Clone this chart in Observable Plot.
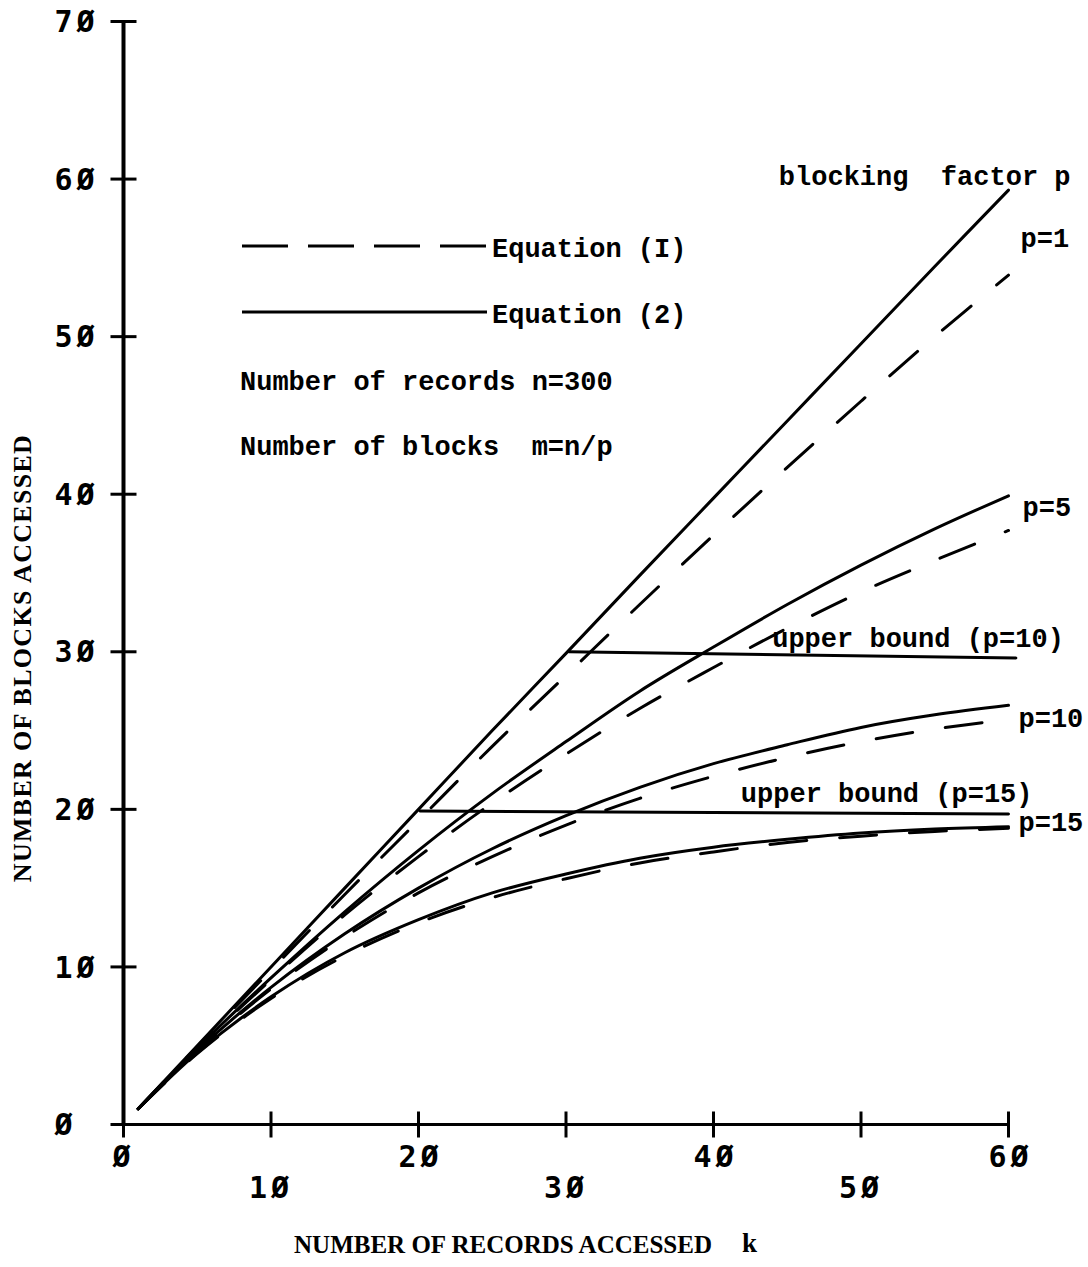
<!DOCTYPE html>
<html><head><meta charset="utf-8">
<script src="https://cdn.jsdelivr.net/npm/d3@7"></script>
<script src="https://cdn.jsdelivr.net/npm/@observablehq/plot@0.6"></script>
<style>
body{margin:0;background:#fff;}
#wrap{position:relative;width:1088px;height:1267px;}
#legend{position:absolute;left:0;top:0;pointer-events:none;}
</style></head><body><div id="wrap"></div>
<script>
// k = number of records accessed
const kValues = [1, 5, 10, 15, 20, 25, 30, 35, 40, 45, 50, 55, 60];
// Equation (2) — solid curves
const eq2P1  = [1, 5, 10, 15, 20, 25, 29.9, 34.85, 39.75, 44.65, 49.55, 54.45, 59.3];
const eq2P5  = [1, 4.85, 9.3, 13.5, 17.4, 21.0, 24.3, 27.5, 30.3, 33.0, 35.5, 37.8, 39.9];
const eq2P10 = [1, 4.7, 8.7, 12.1, 15.0, 17.5, 19.6, 21.4, 22.9, 24.1, 25.2, 26.0, 26.6];
const eq2P15 = [1, 4.55, 8.1, 10.9, 13.0, 14.7, 15.9, 16.9, 17.6, 18.1, 18.5, 18.75, 18.9];
// Equation (1) — dashed curves
const eq1P1  = [1, 4.95, 9.8, 14.6, 19.3, 24.0, 28.5, 33.0, 37.4, 41.7, 45.9, 50.0, 53.9];
const eq1P5  = [1, 4.8, 9.2, 13.3, 17.0, 20.4, 23.5, 26.4, 29.0, 31.5, 33.8, 35.8, 37.7];
const eq1P10 = [1, 4.65, 8.6, 11.9, 14.7, 17.0, 19.0, 20.7, 22.1, 23.3, 24.3, 25.1, 25.7];
const eq1P15 = [1, 4.5, 8.0, 10.7, 12.8, 14.4, 15.6, 16.6, 17.3, 17.9, 18.3, 18.6, 18.8];
// upper bounds (m = n/p)
const upper10K = [30.2, 60.5];
const upper10V = [30.0, 29.6];
const upper15K = [20.1, 60.0];
const upper15V = [19.9, 19.7];
// axes
const xTicks = [0, 10, 20, 30, 40, 50, 60];
const yTicks = [0, 10, 20, 30, 40, 50, 60, 70];
const xTickLabels = ["Ø", "1Ø", "2Ø", "3Ø", "4Ø", "5Ø", "6Ø"];
const yTickLabels = ["Ø", "1Ø", "2Ø", "3Ø", "4Ø", "5Ø", "6Ø", "7Ø"];
const pLabels = ["p=1", "p=5", "p=10", "p=15"];
const yTitle = "NUMBER OF BLOCKS ACCESSED";
const xTitle = "NUMBER OF RECORDS ACCESSED";

const toRows = (vals, p, eq) => vals.map((v, i) => ({k: kValues[i], v, p, eq}));
const solid = [
  ...toRows(eq2P1, 1, 2), ...toRows(eq2P5, 5, 2),
  ...toRows(eq2P10, 10, 2), ...toRows(eq2P15, 15, 2)
];
const dashed = [
  ...toRows(eq1P1, 1, 1), ...toRows(eq1P5, 5, 1),
  ...toRows(eq1P10, 10, 1), ...toRows(eq1P15, 15, 1)
];
const ub10 = upper10K.map((k, i) => ({k, v: upper10V[i]}));
const ub15 = upper15K.map((k, i) => ({k, v: upper15V[i]}));
const xt = xTicks.map((t, i) => ({t, label: xTickLabels[i], odd: i % 2 === 1}));
const yt = yTicks.map((t, i) => ({t, label: yTickLabels[i]}));

const hTick = {draw(ctx) { ctx.moveTo(-13, 0); ctx.lineTo(13, 0); }};
const vTick = {draw(ctx) { ctx.moveTo(0, -13); ctx.lineTo(0, 13); }};

const monoFont = "Liberation Mono";
const tickFont = "DejaVu Sans Mono";
const serifFont = "Liberation Serif";

const lastOf = (rows, p) => rows.filter(d => d.p === p);

const chart = Plot.plot({
  width: 1088, height: 1267,
  marginLeft: 123, marginRight: 80, marginTop: 21, marginBottom: 143,
  x: {domain: [0, 60], axis: null},
  y: {domain: [0, 70], axis: null},
  style: {background: "white", color: "black"},
  marks: [
    Plot.ruleX([0], {stroke: "black", strokeWidth: 4}),
    Plot.ruleY([0], {stroke: "black", strokeWidth: 3}),
    Plot.dot(yt, {x: () => 0, y: "t", symbol: hTick, stroke: "black", strokeWidth: 3, fill: "none"}),
    Plot.dot(xt, {x: "t", y: () => 0, symbol: vTick, stroke: "black", strokeWidth: 3, fill: "none"}),
    Plot.text(yt, {x: () => 0, y: "t", text: "label", textAnchor: "start", dx: -69, dy: 1,
      fontFamily: tickFont, fontWeight: "bold", fontSize: 30}),
    Plot.text(xt.filter(d => !d.odd), {x: "t", y: () => 0, text: "label", textAnchor: "middle", dx: 0, dy: 33,
      fontFamily: tickFont, fontWeight: "bold", fontSize: 30}),
    Plot.text(xt.filter(d => d.odd), {x: "t", y: () => 0, text: "label", textAnchor: "middle", dx: -2, dy: 64,
      fontFamily: tickFont, fontWeight: "bold", fontSize: 30}),
    Plot.line(dashed, {x: "k", y: "v", z: "p", curve: "catmull-rom", stroke: "black", strokeWidth: 3,
      strokeDasharray: "37,33", strokeLinecap: "round"}),
    Plot.line(solid, {x: "k", y: "v", z: "p", curve: "catmull-rom", stroke: "black", strokeWidth: 3,
      strokeLinecap: "round"}),
    Plot.line(ub10, {x: "k", y: "v", stroke: "black", strokeWidth: 3}),
    Plot.line(ub15, {x: "k", y: "v", stroke: "black", strokeWidth: 3}),
    Plot.text(ub10, Plot.selectLast({x: "k", y: "v", text: () => "upper bound (p=10)", textAnchor: "end",
      dx: 48, dy: -20, fontFamily: monoFont, fontWeight: "bold", fontSize: 27})),
    Plot.text(ub15, Plot.selectLast({x: "k", y: "v", text: () => "upper bound (p=15)", textAnchor: "end",
      dx: 24, dy: -21, fontFamily: monoFont, fontWeight: "bold", fontSize: 27})),
    Plot.text(lastOf(solid, 1), Plot.selectLast({x: "k", y: "v", text: () => pLabels[0], textAnchor: "start",
      dx: 12, dy: 48, fontFamily: monoFont, fontWeight: "bold", fontSize: 27})),
    Plot.text(lastOf(solid, 5), Plot.selectLast({x: "k", y: "v", text: () => pLabels[1], textAnchor: "start",
      dx: 14, dy: 12, fontFamily: monoFont, fontWeight: "bold", fontSize: 27})),
    Plot.text(lastOf(solid, 10), Plot.selectLast({x: "k", y: "v", text: () => pLabels[2], textAnchor: "start",
      dx: 10, dy: 13, fontFamily: monoFont, fontWeight: "bold", fontSize: 27})),
    Plot.text(lastOf(solid, 15), Plot.selectLast({x: "k", y: "v", text: () => pLabels[3], textAnchor: "start",
      dx: 10, dy: -4, fontFamily: monoFont, fontWeight: "bold", fontSize: 27})),
    Plot.text(["blocking\u00a0\u00a0factor p"], {frameAnchor: "top-right", text: d => d, textAnchor: "end",
      dx: 62, dy: 144, fontFamily: monoFont, fontWeight: "bold", fontSize: 27}),
    Plot.text([xTitle], {frameAnchor: "bottom", text: d => d, textAnchor: "middle",
      dx: -63, dy: 128, fontFamily: serifFont, fontWeight: "bold", fontSize: 25}),
    Plot.text(["k"], {frameAnchor: "bottom", text: d => d, textAnchor: "start",
      dx: 176, dy: 127, fontFamily: serifFont, fontWeight: "bold", fontSize: 27}),
    Plot.text([yTitle], {frameAnchor: "left", text: d => d, textAnchor: "middle", rotate: -90,
      dx: -101, dy: 85, fontFamily: serifFont, fontWeight: "bold", fontSize: 26})
  ]
});
const wrap = document.getElementById("wrap");
wrap.appendChild(chart);

// letter spacing for the wide tick digits and the y title
const allTicks = new Set([...xTickLabels, ...yTickLabels]);
d3.select(chart).selectAll("text").each(function() {
  const t = this.textContent;
  if (allTicks.has(t)) {
    d3.select(this).attr("letter-spacing", 4);
    const anchor = this.parentNode.getAttribute("text-anchor");
    if (anchor !== "start" && t.length > 1) d3.select(this).attr("dx", 2);
  } else if (t === yTitle) {
    d3.select(this).attr("letter-spacing", 1.3);
  }
});

// Legend / notes overlay
const leg = d3.select(wrap).append("svg").attr("id", "legend").attr("width", 1088).attr("height", 1267);
const legendItems = [
  {label: "Equation (I)", dash: "46,20", y: 246},
  {label: "Equation (2)", dash: null, y: 312}
];
legendItems.forEach(it => {
  leg.append("line").attr("x1", 242).attr("x2", 487).attr("y1", it.y).attr("y2", it.y)
    .attr("stroke", "black").attr("stroke-width", 3)
    .attr("stroke-dasharray", it.dash);
  leg.append("text").attr("x", 492).attr("y", it.y + 2).attr("dy", "0.35em")
    .attr("font-family", monoFont).attr("font-weight", "bold").attr("font-size", 27)
    .text(it.label);
});
const notes = [
  {text: "Number of records n=300", y: 381},
  {text: "Number of blocks\u00a0\u00a0m=n/p", y: 446}
];
notes.forEach(n => {
  leg.append("text").attr("x", 240).attr("y", n.y).attr("dy", "0.35em")
    .attr("font-family", monoFont).attr("font-weight", "bold").attr("font-size", 27)
    .text(n.text);
});
</script></body></html>
